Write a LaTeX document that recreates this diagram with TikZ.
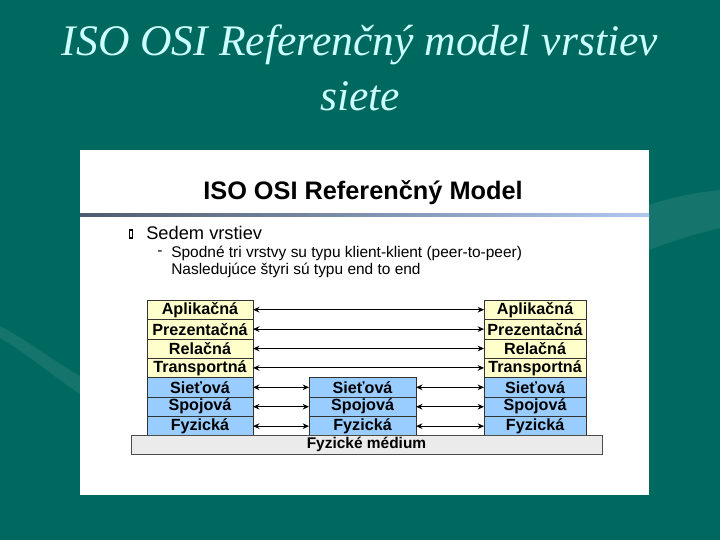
\documentclass[tikz,border=0pt]{standalone}
\usepackage{fontspec}
\setmainfont{Liberation Serif}
\setsansfont{Liberation Sans}
\usetikzlibrary{arrows.meta, positioning}
\definecolor{slidebg}{HTML}{00695F}
\definecolor{swoosh}{HTML}{15756C}
\definecolor{titlecyan}{HTML}{CCFFFF}
\definecolor{layeryellow}{HTML}{FFFFCC}
\definecolor{layerblue}{HTML}{99CCFF}
\definecolor{mediumgray}{HTML}{EBEBEB}
\definecolor{ruledark}{HTML}{4F5A6E}
\definecolor{rulelight}{HTML}{B0C8F0}
\tikzstyle{toplayer} = [
    rectangle, minimum width=2.65cm, minimum height=0.485cm, inner sep=0pt, outer sep=0pt,
    text centered, draw=black!80, fill=layeryellow, font=\sffamily\bfseries\fontsize{11.5}{13}\selectfont
]
\tikzstyle{netlayer} = [
    rectangle, minimum width=2.65cm, minimum height=0.485cm, inner sep=0pt, outer sep=0pt,
    text centered, draw=black!80, fill=layerblue, font=\sffamily\bfseries\fontsize{11.5}{13}\selectfont
]
\tikzstyle{medium} = [
    rectangle, minimum width=11.775cm, minimum height=0.475cm, inner sep=0pt,
    text centered, draw=black!70, fill=mediumgray, font=\sffamily\bfseries\fontsize{11}{13}\selectfont
]
\tikzstyle{bodytext} = [anchor=west, inner sep=0pt, font=\sffamily\fontsize{11}{13}\selectfont]
\tikzstyle{link} = [{Stealth[length=1.6mm, width=1.4mm]}-{Stealth[length=1.6mm, width=1.4mm]}, thick]

\begin{document}
\begin{tikzpicture}[x=0.025cm, y=-0.025cm]
    % Slide background
    \fill[slidebg] (0,0) rectangle (720,540);
    \useasboundingbox (0,0) rectangle (720,540);
    \fill[swoosh] (0,326) .. controls (30,342) and (55,362) .. (80,376)
        -- (80,394) .. controls (50,374) and (25,352) .. (0,338) -- cycle;
    \fill[swoosh] (649,205) .. controls (675,196) and (700,192) .. (720,190)
        -- (720,228) .. controls (695,234) and (670,242) .. (649,250) -- cycle;
    % Title
    \node[align=center, text=titlecyan, font=\itshape\fontsize{31}{39}\selectfont] (title) at (360,68)
        {ISO OSI Referenčný model vrstiev\\siete};
    % Panel
    \fill[white] (80,150) rectangle (649,495);
    \shade[left color=ruledark, right color=rulelight] (80,213.5) rectangle (649,216.5);
    \node[font=\sffamily\bfseries\fontsize{18}{21}\selectfont] (head) at (363,193) {ISO OSI Referenčný Model};
    \node[draw, line width=0.9pt, minimum width=0.0875cm, minimum height=0.2cm, inner sep=0pt] (bullet) at (131,234) {};
    \node[bodytext, font=\sffamily\fontsize{13}{15}\selectfont] (seven) at (146,233) {Sedem vrstiev};
    \node[bodytext] (dash) at (157,253) {-};
    \node[bodytext] (lower) at (171,253) {Spodné tri vrstvy su typu klient-klient (peer-to-peer)};
    \node[bodytext] (upper) at (171,270) {Nasledujúce štyri sú typu end to end};
    % Left stack
    \node[toplayer] (aplL) at (200,309.7) {Aplikačná};
    \node[toplayer, below=0pt of aplL] (prezL) {Prezentačná};
    \node[toplayer, below=0pt of prezL] (relL) {Relačná};
    \node[toplayer, below=0pt of relL] (trL) {Transportná};
    \node[netlayer, below=0pt of trL] (sietL) {Sieťová};
    \node[netlayer, below=0pt of sietL] (spojL) {Spojová};
    \node[netlayer, below=0pt of spojL] (fyzL) {Fyzická};
    % Middle stack
    \node[netlayer, minimum width=2.675cm, right=1.4cm of sietL] (sietM) {Sieťová};
    \node[netlayer, minimum width=2.675cm, below=0pt of sietM] (spojM) {Spojová};
    \node[netlayer, minimum width=2.675cm, below=0pt of spojM] (fyzM) {Fyzická};
    % Right stack
    \node[toplayer, minimum width=2.55cm, right=5.775cm of aplL] (aplR) {Aplikačná};
    \node[toplayer, minimum width=2.55cm, below=0pt of aplR] (prezR) {Prezentačná};
    \node[toplayer, minimum width=2.55cm, below=0pt of prezR] (relR) {Relačná};
    \node[toplayer, minimum width=2.55cm, below=0pt of relR] (trR) {Transportná};
    \node[netlayer, minimum width=2.55cm, below=0pt of trR] (sietR) {Sieťová};
    \node[netlayer, minimum width=2.55cm, below=0pt of sietR] (spojR) {Spojová};
    \node[netlayer, minimum width=2.55cm, below=0pt of spojR] (fyzR) {Fyzická};
    % Medium
    \node[medium] (med) at (366.5,444.5) {Fyzické médium};
    % Arrows — end to end
    \draw[link] (aplL) -- (aplR);
    \draw[link] (prezL) -- (prezR);
    \draw[link] (relL) -- (relR);
    \draw[link] (trL) -- (trR);
    % Arrows — peer to peer
    \draw[link] (sietL) -- (sietM);
    \draw[link] (spojL) -- (spojM);
    \draw[link] (fyzL) -- (fyzM);
    \draw[link] (sietM) -- (sietR);
    \draw[link] (spojM) -- (spojR);
    \draw[link] (fyzM) -- (fyzR);
\end{tikzpicture}
\end{document}
